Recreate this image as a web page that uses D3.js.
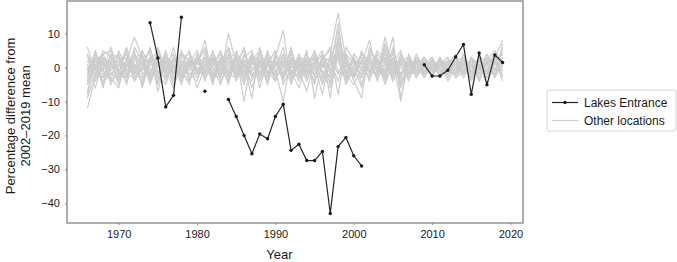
<!DOCTYPE html>
<html>
<head>
<meta charset="utf-8">
<script src="https://cdn.jsdelivr.net/npm/d3@7"></script>
<style>
  body { margin: 0; background: #fff; }
  svg { font-family: "Liberation Sans", Arial, Helvetica, sans-serif; }
</style>
</head>
<body>
<svg id="chart" width="677" height="262"></svg>
<script>
// Lakes Entrance, percentage difference from 2002-2019 mean (null = no data)
const lakesYears = [1974, 1975, 1976, 1977, 1978, 1979, 1980, 1981, 1982, 1983,
  1984, 1985, 1986, 1987, 1988, 1989, 1990, 1991, 1992, 1993, 1994, 1995, 1996,
  1997, 1998, 1999, 2000, 2001, 2002, 2003, 2004, 2005, 2006, 2007, 2008,
  2009, 2010, 2011, 2012, 2013, 2014, 2015, 2016, 2017, 2018, 2019];
const lakesValues = [13.2, 2.8, -11.6, -8.2, 14.8, null, null, -7.0, null, null,
  -9.4, -14.4, -20.0, -25.4, -19.6, -21.0, -14.4, -10.8, -24.4, -22.6, -27.4, -27.4, -24.7,
  -43.0, -23.3, -20.6, -26.0, -29.0, null, null, null, null, null, null, null,
  0.8, -2.5, -2.5, -0.8, 3.1, 6.8, -7.9, 4.3, -5.1, 3.7, 1.5];

// other locations, 1966-2019
const otherYears = d3.range(1966, 2020);
const other1 = [-3, 5, -2, 1,
  -4, 2, 9, 3, -2, 4, -1, -6, 2, 0,
  1, 8, -3, 2, 3, -4, 1, -9, 6, -2,
  3, 11, -5, 2, -3, 1, -8, 4, 16, 2,
  -4, -9, 6, 1, -2, 3, -6, 2, 1, -1,
  2, -3, 1, 4, -2, 3, -4, 2, 5, 1];
const other2 = [-12, -3, 2, -5,
  0, 6, -1, -4, 3, -2, 5, -3, -1, 2,
  -6, 0, 4, -3, 10, 1, -5, 2, -3, 4,
  -1, -10, 3, -2, 5, -9, 2, 6, -1, -3,
  4, 1, 8, -2, 0, 9, -9, 1, -3, 2,
  -1, 2, -4, 0, 3, -2, 1, -5, 2, 4];
const other3 = [6, -1, 3, -2,
  -3, 1, -2, 5, 0, -4, 2, 1, -5, 3,
  2, -3, 1, 0, -4, 5, -2, 1, 3, -1,
  -2, 4, -1, -6, 1, 3, -2, -4, 9, -3,
  1, 3, -2, 5, 2, -4, 1, -2, 3, 0,
  -2, 1, 3, -1, 2, -3, 0, 4, -1, 6];
const other4 = [-2, 3, -6, 2,
  4, -3, 1, -1, 6, -2, -5, 3, 1, -3,
  -1, 2, -5, 3, 1, -2, 4, -3, 2, 1,
  5, -3, 2, 1, -4, 2, 5, -9, 7, 3,
  -2, 4, 1, -3, 6, -1, 2, 3, -2, 1,
  3, -1, -2, 2, 0, 1, -3, 1, 3, 8];
const other5 = [1, -4, 0, 3,
  -1, 2, -3, 0, -2, 3, 1, -1, 4, -4,
  3, -1, 2, -2, 1, 3, -3, 2, -1, 0,
  1, -2, 3, 0, 2, -1, 1, 3, -2, 4,
  -3, 2, 0, 1, -1, 2, -2, 0, 1, -3,
  1, 0, 2, -2, 1, 0, 2, -1, 0, -2];
const other6 = [-5, 2, 4, -1,
  2, -5, 4, 1, -3, 0, 3, -2, 0, 5,
  -2, 4, 0, -5, 2, -1, 0, 4, -6, 2,
  -3, 1, -2, 4, -1, 2, -5, 1, 11, -2,
  3, -5, 2, 0, 4, -3, 3, -1, 2, -2,
  0, -2, 1, 3, -1, 2, 1, -2, 4, 0];
const other7 = [-8, 1, -3, 4,
  -2, 0, 5, -6, 2, 1, -2, 6, -3, 1,
  5, -2, 3, 1, -2, 0, 6, -3, 1, -4,
  2, -4, 5, -1, -7, 3, 0, 2, 5, 1,
  -1, 2, -4, 3, -2, 1, 5, -3, 0, 2,
  -3, 2, 0, -1, 3, -2, 2, 0, -2, 3];
const other8 = [3, 0, -4, -2,
  1, 4, -2, 2, -1, -3, 4, 0, 2, -2,
  0, -3, 1, 4, -1, 2, -2, -1, 3, 2,
  -4, 2, 0, 3, 2, -5, 4, -2, 3, -1,
  2, -3, 4, -1, 1, -2, 3, 1, -1, 0,
  2, -1, 0, 1, -3, 2, -1, 3, 1, -1];
const other9 = [-1, 4, 1, -3,
  -6, 3, 0, 4, -4, 6, -1, 2, -2, 1,
  -3, 1, -1, 2, 5, -3, 1, -2, 0, 3,
  0, 6, -3, -2, 3, -1, 2, -5, 4, -2,
  -5, 0, 3, -4, 2, 4, -3, 2, 0, 1,
  -1, 3, -2, 2, 1, -1, 3, -2, 1, 2];
const other10 = [0, -6, 2, 0,
  3, -2, -3, 1, 5, -7, 2, -4, 3, 4,
  -1, -2, 5, -1, 3, 4, -10, 3, 2, -3,
  4, -3, 1, 2, 0, -4, 3, 5, -8, 6,
  2, 0, -3, 2, -5, 2, -10, 4, -1, 3,
  0, 2, -3, 1, 2, -4, 2, 1, -3, 1];
const other11 = [2, -2, 5, 3,
  -3, 1, 3, -2, 1, -1, -3, 3, -1, -5,
  4, -1, -2, 3, -3, 1, 2, 0, -2, 5,
  -2, 3, -1, -3, 2, 0, -3, 3, 2, -4,
  3, -1, 1, 2, -3, 0, 2, -2, 4, -1,
  -2, 1, 3, -3, -1, 3, 0, -1, 2, -4];
const other12 = [-4, 3, -1, 6,
  -1, -4, 2, 3, -5, 2, 0, -2, 5, -1,
  2, 5, -4, 1, -2, -3, 3, 5, -4, 1,
  -3, 0, 4, -1, 3, 2, -1, -3, 6, -5,
  0, 3, -1, -2, 9, -1, 0, -3, 2, -2,
  3, -3, 1, 2, -2, 1, -2, 3, -1, 2];
const other13 = [4, -1, -3, 0,
  2, 3, -4, 0, 3, 1, -4, 1, -3, 3,
  -2, 0, 3, -4, 0, 2, -1, -4, 2, -2,
  1, -1, -4, 3, -2, 1, 4, -1, 3, 2,
  -2, 4, 2, 0, -3, 5, -2, 3, -2, 1,
  -2, 0, 2, -2, 4, -1, 0, 2, -2, 1];
const other14 = [-7, 2, 1, -4,
  5, -1, -1, 2, -2, 4, 1, -5, 0, 2,
  1, 3, -3, 2, -5, 4, 0, 2, 5, -1,
  -4, 2, 1, 0, 4, -3, 1, -1, 13, -3,
  -2, -3, 5, 2, -1, 3, -4, 0, 2, -2,
  1, -2, -1, 3, 0, -3, 3, 2, -1, 5];
const other15 = [-9, -2, 3, 1,
  -1, -3, 6, 2, -4, 1, 3, -2, -1, -4,
  2, -1, 0, 5, -2, 3, -4, 1, 4, -2,
  -1, 2, -3, 1, -2, 4, -1, -3, 7, 2,
  -3, 5, -1, 2, -4, 1, 2, -4, 3, -1,
  1, -2, 2, 0, -1, 2, -2, 1, 4, -3];
const other16 = [2, 1, -5, 4,
  3, -2, 0, -3, 2, 5, -3, 2, 0, -2,
  -4, 3, 2, -2, 6, -1, 2, -6, 1, 3,
  -3, 0, 2, -4, 1, -2, 3, 2, -4, 4,
  1, -2, 3, -3, 5, -2, 1, 2, -3, 2,
  -1, 1, -2, 2, 3, -1, 0, -3, 2, 4];
const other17 = [-5, 4, -1, -2,
  1, -1, 3, 4, -3, 2, -2, 0, 4, 2,
  -2, 2, -4, 0, -1, 2, 5, -2, -3, 1,
  5, -5, 0, 2, -3, 1, -4, 3, 8, -1,
  0, -6, 4, 3, -2, 6, -5, 1, 2, -3,
  2, 0, -1, -2, 2, 1, -4, 3, 1, 2];
const other18 = [0, 2, 3, -4,
  -2, 5, -4, 1, 2, -3, 1, 4, -3, 0,
  3, -4, 2, 1, 3, -2, -1, 3, -2, 2,
  1, 4, -2, 0, -1, -2, 1, -3, 5, 0,
  2, 1, -3, 4, 1, -2, 4, -1, -2, 3,
  -1, 2, 1, -3, 1, -1, 2, -2, 3, 1];
const other19 = [4, -3, 0, 2,
  -5, 1, -2, 3, 4, -5, 3, -1, -2, 1,
  1, 6, -2, -3, 4, 0, -3, 4, -1, -3,
  2, -2, 6, -3, 2, 3, -2, -6, 4, 1,
  -3, 2, 2, -1, 3, -4, 2, -2, 1, 3,
  -2, 3, -1, 1, -2, 2, -1, 2, -3, 7];
const other20 = [-2, 0, 4, 5,
  -1, -2, 1, -5, 3, 2, -1, 3, -4, 2,
  0, -2, 3, -1, -3, 4, 1, -1, 2, -5,
  3, 1, -2, 2, 0, 5, -2, 1, 3, -4,
  0, 2, -1, -2, 7, 0, -3, 2, -1, -2,
  1, -1, 2, 1, -2, 3, 1, -1, 2, -1];
const otherSeries = [other1, other2, other3, other4, other5, other6, other7,
  other8, other9, other10, other11, other12, other13, other14, other15,
  other16, other17, other18, other19, other20];

const xTicks = [1970, 1980, 1990, 2000, 2010, 2020];
const yTicks = [-40, -30, -20, -10, 0, 10];
const legendLabels = ["Lakes Entrance", "Other locations"];

const margin = { left: 67, top: 1, right: 154, bottom: 39 };
const width = 677, height = 262;

const svg = d3.select("#chart");

const x = d3.scaleLinear()
  .domain([1963.4, 2021.6])
  .range([margin.left, width - margin.right]);
const y = d3.scaleLinear()
  .domain([-45.8, 19.6])
  .range([height - margin.bottom, margin.top]);

const line = d3.line()
  .defined(d => d[1] != null)
  .x(d => x(d[0]))
  .y(d => y(d[1]));

// gray lines first
svg.append("g")
  .selectAll("path")
  .data(otherSeries)
  .join("path")
  .attr("d", s => line(s.map((v, i) => [otherYears[i], v])))
  .attr("fill", "none")
  .attr("stroke", "#cdcdcd")
  .attr("stroke-width", 1.2)
  .attr("stroke-linejoin", "round");

const lakes = lakesYears.map((yr, i) => [yr, lakesValues[i]]);
svg.append("path")
  .attr("d", line(lakes))
  .attr("fill", "none")
  .attr("stroke", "#262626")
  .attr("stroke-width", 1.2);

svg.append("g")
  .selectAll("circle")
  .data(lakes.filter(d => d[1] != null))
  .join("circle")
  .attr("cx", d => x(d[0]))
  .attr("cy", d => y(d[1]))
  .attr("r", 1.7)
  .attr("fill", "#1a1a1a");

// plot box
svg.append("rect")
  .attr("x", margin.left)
  .attr("y", margin.top)
  .attr("width", width - margin.right - margin.left)
  .attr("height", height - margin.bottom - margin.top)
  .attr("fill", "none")
  .attr("stroke", "#8c8c8c")
  .attr("stroke-width", 1.4);

// axes
const xAxis = svg.append("g")
  .attr("transform", `translate(0,${height - margin.bottom})`)
  .call(d3.axisBottom(x).tickValues(xTicks).tickFormat(d3.format("d")).tickSize(2).tickPadding(5));
const yAxis = svg.append("g")
  .attr("transform", `translate(${margin.left},0)`)
  .call(d3.axisLeft(y).tickValues(yTicks).tickSize(2).tickPadding(5));

[xAxis, yAxis].forEach(g => {
  g.select(".domain").remove();
  g.selectAll(".tick line").attr("stroke", "#8c8c8c");
  g.selectAll(".tick text")
    .attr("fill", "#1a1a1a")
    .style("font-size", "11px")
    .style("font-family", "'Liberation Sans', Arial, sans-serif");
});

// axis titles
svg.append("text")
  .attr("x", x(1990.5))
  .attr("y", 259)
  .attr("text-anchor", "middle")
  .attr("font-size", 13)
  .attr("fill", "#1a1a1a")
  .text("Year");

const yTitle = svg.append("text")
  .attr("transform", "translate(0,116) rotate(-90)")
  .attr("text-anchor", "middle")
  .attr("font-size", 13)
  .attr("fill", "#1a1a1a");
yTitle.append("tspan").attr("x", 0).attr("y", 15).text("Percentage difference from");
yTitle.append("tspan").attr("x", 0).attr("y", 30).text("2002\u20132019 mean");

// legend
const lg = svg.append("g").attr("transform", "translate(547,90)");
lg.append("rect")
  .attr("width", 129)
  .attr("height", 41)
  .attr("rx", 2)
  .attr("fill", "#fff")
  .attr("stroke", "#d4d4d4");
legendLabels.forEach((lab, i) => {
  const yy = 12.5 + i * 18;
  lg.append("line")
    .attr("x1", 5).attr("x2", 31)
    .attr("y1", yy).attr("y2", yy)
    .attr("stroke", i === 0 ? "#262626" : "#cdcdcd")
    .attr("stroke-width", 1.2);
  if (i === 0) {
    lg.append("circle").attr("cx", 18).attr("cy", yy).attr("r", 1.7).attr("fill", "#1a1a1a");
  }
  lg.append("text")
    .attr("x", 37)
    .attr("y", yy + 4.3)
    .attr("font-size", 12)
    .attr("fill", "#1a1a1a")
    .text(lab);
});
</script>
</body>
</html>
